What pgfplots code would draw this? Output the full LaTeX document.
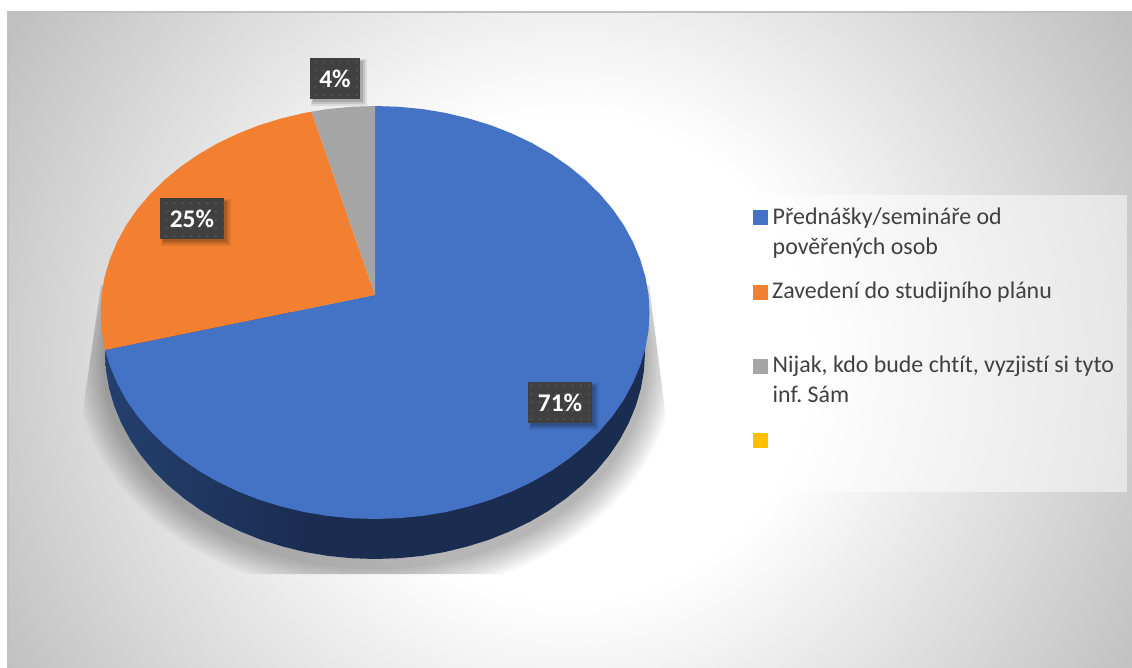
\documentclass[border=0pt]{standalone}
\usepackage{fontspec}
\setmainfont{Carlito}[Ligatures=NoCommon]
\usepackage{pgfplots}
\pgfplotsset{compat=1.18}
\usetikzlibrary{patterns.meta}

\definecolor{cblue}{HTML}{4472C4}
\definecolor{corange}{HTML}{F28030}
\definecolor{cgray}{HTML}{A5A5A5}
\definecolor{cyellow}{HTML}{FFC000}
\definecolor{ctext}{HTML}{404040}
\definecolor{cbox}{HTML}{404040}
\definecolor{cdot}{HTML}{585858}
\definecolor{cside}{HTML}{1A2C50}
\definecolor{csidel}{HTML}{33609F}
\definecolor{csidem}{HTML}{24406F}
\definecolor{cframe}{HTML}{C0C0C0}

\pgfdeclareradialshading{chartbg}{\pgfpointorigin}{%
  color(0bp)=(white); color(8.6bp)=(white);
  color(23.2bp)=(cframe); color(50bp)=(cframe)}
\pgfdeclarehorizontalshading{sideblue}{100bp}{%
  color(0bp)=(csidel); color(25bp)=(csidem);
  color(44bp)=(cside); color(100bp)=(cside)}

% one step of the soft shadow under the pie
\newcommand{\shadowstep}[1]{%
  \fill[black,opacity=.03] (axis cs:375,360) ellipse [x radius=270+#1, y radius=206.5+#1];}

% data label: box corners, then text
\newcommand{\datalabel}[5]{%
  \fill[black,opacity=.08] (axis cs:#1+1,#2+1) rectangle (axis cs:#3+7,#4+7);
  \fill[black,opacity=.1] (axis cs:#1+2,#2+2) rectangle (axis cs:#3+5,#4+5);
  \fill[black,opacity=.14] (axis cs:#1+3,#2+3) rectangle (axis cs:#3+3,#4+3);
  \fill[cbox,postaction={pattern={Dots[radius=1.1pt,distance=8.3bp]},pattern color=cdot}]
    (axis cs:#1,#2) rectangle (axis cs:#3,#4);
  \node[text=white,font=\fontsize{25.5}{25.5}\selectfont\bfseries,inner sep=0pt]
    at (axis cs:{(#1+#3)/2},{(#2+#4)/2}) {#5};}

\newcommand{\legendtext}[3]{%
  \node[anchor=base west,inner sep=0pt,text=ctext,font=\fontsize{24}{26}\selectfont]
    at (axis cs:#1,#2) {#3};}

\begin{document}
\begin{tikzpicture}
\begin{axis}[
  scale only axis,
  width=1132bp,
  height=668bp,
  xmin=0,xmax=1132,
  ymin=0,ymax=668,
  y dir=reverse,
  hide axis,
]
  \path (axis cs:0,0) rectangle (axis cs:1132,668);

  % background
  \begin{scope}
    \clip (axis cs:8,12) rectangle (axis cs:1132,668);
    \shade[shading=chartbg] (axis cs:-130,-342) rectangle (axis cs:1270,1058);
  \end{scope}
  \draw[cframe,line width=1.2bp] (axis cs:8,668) -- (axis cs:8,12) -- (axis cs:1132,12);

  % shadow
  \begin{scope}
    \clip (axis cs:101,285) -- (axis cs:83,410) -- (axis cs:83,574)
      -- (axis cs:665,574) -- (axis cs:665,410) -- (axis cs:649,285) -- cycle;
    \shadowstep{30}\shadowstep{27}\shadowstep{24}\shadowstep{21}\shadowstep{18}
    \shadowstep{15}\shadowstep{12}\shadowstep{9}\shadowstep{6}\shadowstep{3}
  \end{scope}

  % pie side
  \addplot[draw=none,shading=sideblue] coordinates {
    (645,312) (645,352.5) (644,370.5) (640.9,388.4) (635.8,405.9) (628.7,423.1)
    (619.7,439.8) (608.8,455.8) (596.2,470.9) (581.8,485.2) (565.9,498.5)
    (548.6,510.7) (529.9,521.7) (510,531.3) (489.1,539.7) (467.3,546.5)
    (444.9,552) (421.9,555.9) (398.5,558.2) (375,559) (351.5,558.2)
    (328.1,555.9) (305.1,552) (282.7,546.5) (260.9,539.7) (240,531.3)
    (220.1,521.7) (201.4,510.7) (184.1,498.5) (168.2,485.2) (153.8,470.9)
    (141.2,455.8) (130.3,439.8) (121.3,423.1) (114.2,405.9) (109.1,388.4)
    (106,370.5) (105,352.5) (105,312)
  } -- cycle;

  % 71 %
  \addplot[draw=none,fill=cblue] coordinates {
    (375,295) (375,106) (398.9,106.8) (422.7,109.1) (446,113) (468.9,118.5)
    (491,125.3) (512.3,133.7) (532.4,143.3) (551.4,154.3) (569.1,166.5)
    (585.3,179.8) (599.9,194.1) (612.7,209.2) (623.8,225.2) (632.9,241.9)
    (640.1,259.1) (645.3,276.6) (648.5,294.5) (649.5,312.5) (648.5,330.5)
    (645.3,348.4) (640.1,365.9) (632.9,383.1) (623.8,399.8) (612.7,415.8)
    (599.9,430.9) (585.3,445.2) (569.1,458.5) (551.4,470.7) (532.4,481.7)
    (512.3,491.3) (491,499.7) (468.9,506.5) (446,512) (422.7,515.9)
    (398.9,518.2) (375,519) (351.1,518.2) (327.3,515.9) (304,512)
    (281.1,506.5) (259,499.7) (237.7,491.3) (217.6,481.7) (198.6,470.7)
    (180.9,458.5) (164.7,445.2) (150.1,430.9) (137.3,415.8) (126.2,399.8)
    (117.1,383.1) (109.9,365.9) (105,350)
  } -- cycle;

  % 25 %
  \addplot[draw=none,fill=corange] coordinates {
    (375,295) (105,350) (101.5,330.5) (100.5,312.5) (101.5,294.5) (104.7,276.6)
    (109.9,259.1) (117.1,241.9) (126.2,225.2) (137.3,209.2) (150.1,194.1)
    (164.7,179.8) (180.9,166.5) (198.6,154.3) (217.6,143.3) (237.7,133.7)
    (259,125.3) (281.1,118.5) (304,113) (311.5,111.7)
  } -- cycle;

  % 4 %
  \addplot[draw=none,fill=cgray] coordinates {
    (375,295) (311.5,111.7) (327.3,109.1) (351.1,106.8) (375,106)
  } -- cycle;

  \datalabel{310}{58}{360}{99}{4\%}
  \datalabel{160}{198}{224}{239}{25\%}
  \datalabel{528}{382}{592}{423}{71\%}

  % legend
  \fill[white,opacity=.5] (axis cs:740,195) rectangle (axis cs:1127,492);
  \addplot[only marks,mark=square*,mark size=6.8bp,color=cblue] coordinates {(760,217)};
  \addplot[only marks,mark=square*,mark size=6.8bp,color=corange] coordinates {(760,292)};
  \addplot[only marks,mark=square*,mark size=6.8bp,color=cgray] coordinates {(760,366)};
  \addplot[only marks,mark=square*,mark size=6.8bp,color=cyellow] coordinates {(760,440)};
  \legendtext{772.5}{224}{Přednášky/semináře od}
  \legendtext{772.5}{254}{pověřených osob}
  \legendtext{772}{298}{Zavedení do studijního plánu}
  \legendtext{772.5}{372}{Nijak, kdo bude chtít, vyzjistí si tyto}
  \legendtext{772.5}{402}{inf.\ Sám}
\end{axis}
\end{tikzpicture}
\end{document}
